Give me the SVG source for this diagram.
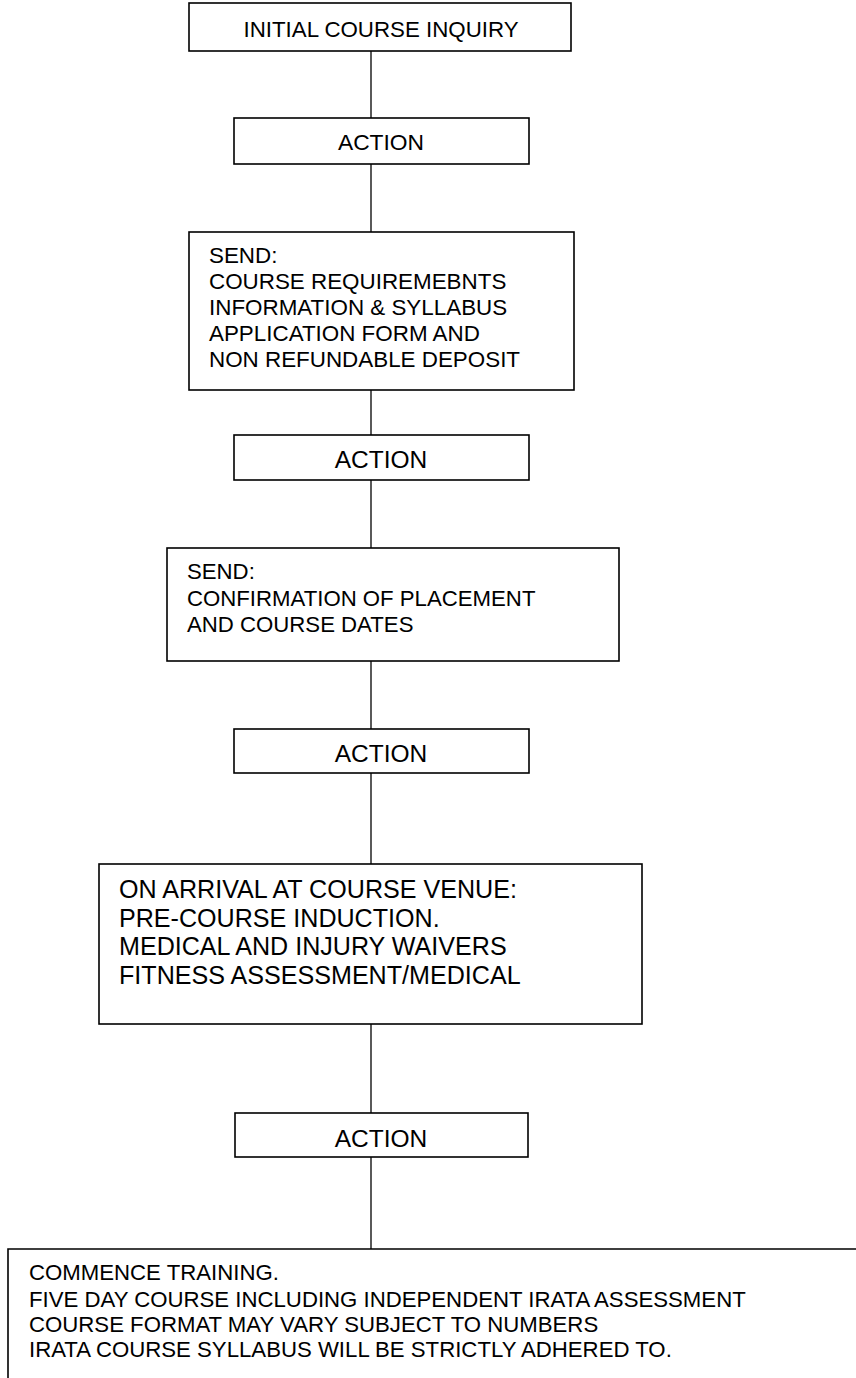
<svg xmlns="http://www.w3.org/2000/svg" width="856" height="1378" viewBox="0 0 856 1378">
<style>
.box{fill:#fff;stroke:#000;stroke-width:1.6}
.c{stroke:#000;stroke-width:1.3;fill:none}
text{font-family:"Liberation Sans",Arial,sans-serif;fill:#000}
.m{text-anchor:middle}
</style>
<rect width="856" height="1378" fill="#fff"/>
<g id="connectors">
<line class="c" x1="371" y1="51" x2="371" y2="118"/>
<line class="c" x1="371" y1="164" x2="371" y2="232"/>
<line class="c" x1="371" y1="390" x2="371" y2="435"/>
<line class="c" x1="371" y1="480" x2="371" y2="548"/>
<line class="c" x1="371" y1="661" x2="371" y2="729"/>
<line class="c" x1="371" y1="773" x2="371" y2="864"/>
<line class="c" x1="371" y1="1024" x2="371" y2="1113"/>
<line class="c" x1="371" y1="1157" x2="371" y2="1249"/>
</g>
<g id="inquiry">
<rect class="box" x="189" y="3" width="382" height="48"/>
<text class="m" x="381" y="37" font-size="22.3">INITIAL COURSE INQUIRY</text>
</g>
<g id="action1">
<rect class="box" x="234" y="118" width="295" height="46"/>
<text class="m" x="381" y="150" font-size="22.8">ACTION</text>
</g>
<g id="send1">
<rect class="box" x="189" y="232" width="385" height="158"/>
<text x="209" font-size="22.4">
<tspan x="209" y="263">SEND:</tspan>
<tspan x="209" y="289">COURSE REQUIREMEBNTS</tspan>
<tspan x="209" y="315">INFORMATION &amp; SYLLABUS</tspan>
<tspan x="209" y="341">APPLICATION FORM AND</tspan>
<tspan x="209" y="367">NON REFUNDABLE DEPOSIT</tspan>
</text>
</g>
<g id="action2">
<rect class="box" x="234" y="435" width="295" height="45"/>
<text class="m" x="381" y="468" font-size="24.5">ACTION</text>
</g>
<g id="send2">
<rect class="box" x="167" y="548" width="452" height="113"/>
<text font-size="22.2">
<tspan x="187" y="579">SEND:</tspan>
<tspan x="187" y="606">CONFIRMATION OF PLACEMENT</tspan>
<tspan x="187" y="632">AND COURSE DATES</tspan>
</text>
</g>
<g id="action3">
<rect class="box" x="234" y="729" width="295" height="44"/>
<text class="m" x="381" y="762" font-size="24.5">ACTION</text>
</g>
<g id="arrival">
<rect class="box" x="99" y="864" width="543" height="160"/>
<text font-size="25.1">
<tspan x="119" y="898">ON ARRIVAL AT COURSE VENUE:</tspan>
<tspan x="119" y="927">PRE-COURSE INDUCTION.</tspan>
<tspan x="119" y="955">MEDICAL AND INJURY WAIVERS</tspan>
<tspan x="119" y="984">FITNESS ASSESSMENT/MEDICAL</tspan>
</text>
</g>
<g id="action4">
<rect class="box" x="235" y="1113" width="293" height="44"/>
<text class="m" x="381" y="1147" font-size="24.5">ACTION</text>
</g>
<g id="training">
<path class="box" d="M 860 1249 H 8 V 1382" fill="none"/>
<text font-size="22.2">
<tspan x="29" y="1280">COMMENCE TRAINING.</tspan>
<tspan x="29" y="1307">FIVE DAY COURSE INCLUDING INDEPENDENT IRATA ASSESSMENT</tspan>
<tspan x="29" y="1332">COURSE FORMAT MAY VARY SUBJECT TO NUMBERS</tspan>
<tspan x="29" y="1357">IRATA COURSE SYLLABUS WILL BE STRICTLY ADHERED TO.</tspan>
</text>
</g>
</svg>
